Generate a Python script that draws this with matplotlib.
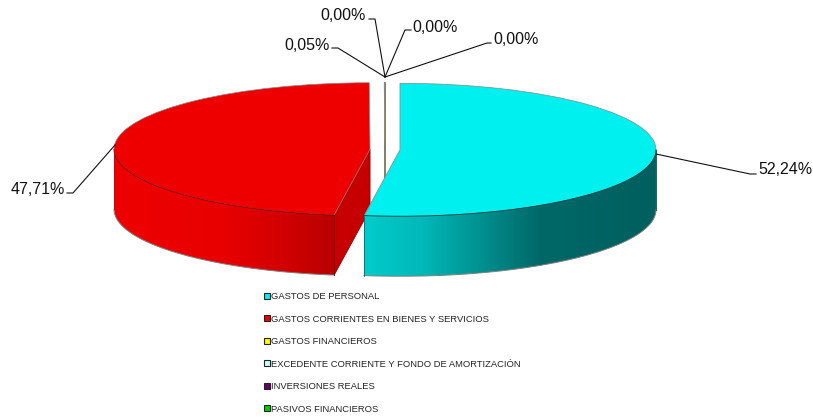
import numpy as np
import matplotlib
matplotlib.use("Agg")
import matplotlib.pyplot as plt
from matplotlib.colors import LinearSegmentedColormap
from matplotlib.patches import Patch, Polygon

plt.rcParams['font.family'] = ['Liberation Sans', 'DejaVu Sans']

categories = ["GASTOS DE PERSONAL", "GASTOS CORRIENTES EN BIENES Y SERVICIOS",
              "GASTOS FINANCIEROS", "EXCEDENTE CORRIENTE Y FONDO DE AMORTIZACIÓN",
              "INVERSIONES REALES", "PASIVOS FINANCIEROS"]
values = [52.24, 47.71, 0.05, 0.00, 0.00, 0.00]
colors = ["#00F0F0", "#EE0000", "#FFFF00", "#CCFFFF", "#660066", "#00CC00"]

W, H = 813, 418
# pie geometry in pixels: horizontal and vertical radius, centre, wall height
RX, RY = 256, 66.5
CX, CY = 385, 149.5
DEPTH = 60 / RY

wall_cyan = LinearSegmentedColormap.from_list("c", [(0, "#00CCCC"), (0.2, "#00B8B8"), (0.6, "#006868"), (1, "#005F5F")])
wall_red = LinearSegmentedColormap.from_list("r", [(0, "#EE0000"), (0.5, "#E80000"), (0.8, "#CF0000"), (1, "#B80000")])

fig = plt.figure(figsize=(W / 100, H / 100), dpi=100)
ax = fig.add_axes([0, 0, 1, 1])

wedges, _ = ax.pie(values, colors=colors, startangle=90, counterclock=False,
                   explode=[15 / RX, 15 / RX, 0, 0, 0, 0],
                   wedgeprops=dict(edgecolor="#888888", linewidth=0.5))


def px(x, y):
    return (x - CX) / RX, (CY - y) / RY


def rim(w, deg):
    t = np.radians(deg)
    return w.center[0] + w.r * np.cos(t), w.center[1] + w.r * np.sin(t)


def draw_wall(w, cmap, z, left_col, right_col):
    # only the part of the rim facing the viewer, lower half of the ellipse
    t = np.linspace(max(w.theta1, -180), min(w.theta2, 0), 200)
    x, y = rim(w, t)
    outline = np.vstack([np.column_stack([x, y]), np.column_stack([x, y - DEPTH])[::-1]])
    clip = Polygon(outline, transform=ax.transData, facecolor="none", edgecolor="none")
    ax.add_patch(clip)
    img = ax.imshow(np.linspace(0, 1, 256)[None, :], cmap=cmap, aspect="auto", zorder=z,
                    extent=(x.min(), x.max(), (y - DEPTH).min(), y.max()))
    img.set_clip_path(clip)
    ax.plot(x, y - DEPTH, color="#808080", lw=0.7, zorder=z + 0.1)
    ax.plot(x, y, color=right_col, lw=0.6, zorder=z + 0.1)
    ax.plot([x[0]] * 2, [y[0], y[0] - DEPTH], color=left_col, lw=0.6, zorder=z + 0.1)
    ax.plot([x[-1]] * 2, [y[-1], y[-1] - DEPTH], color=right_col, lw=0.6, zorder=z + 0.1)


cyan, red, sliver = wedges[0], wedges[1], wedges[2]

# cut face of the small slice, mostly hidden behind the cyan one
sx, sy = rim(sliver, sliver.theta1)
ax.plot([sx, sx], [sy, sy - 1 - DEPTH], color="#77775A", lw=1.3, zorder=1)
sliver.set_zorder(1.1)

# cut face of the red slice that looks to the front
rx, ry = rim(red, red.theta2)
ax.add_patch(Polygon([red.center, (rx, ry), (rx, ry - DEPTH), (red.center[0], red.center[1] - DEPTH)],
                     facecolor="#C60000", edgecolor="#8A0000", lw=0.6, zorder=2))
red.set_zorder(3)
draw_wall(red, wall_red, 3.5, "#D00000", "#800000")
cyan.set_zorder(5)
draw_wall(cyan, wall_cyan, 5.5, "#007070", "#004848")

# data labels with their leader lines, in pixels
label_pos = [(785, 169), (38, 189), (307, 45), (343, 16), (435, 27), (516, 40)]
leaders = [[(656, 154), (750, 174), (756, 174)],
           [(115, 145), (73, 193), (67, 193)],
           [(385, 77), (338, 48), (332, 48)],
           [(385, 77), (375, 19), (369, 19)],
           [(385, 77), (405, 30), (411, 30)],
           [(385, 77), (487, 43), (491, 43)]]
for v, pos, line in zip(values, label_pos, leaders):
    ax.text(*px(*pos), f"{v:.2f}%".replace(".", ","), fontsize=11.5, ha="center", va="center", color="#111111", zorder=8)
    pts = np.array([px(*p) for p in line])
    ax.plot(pts[:, 0], pts[:, 1], color="#111111", lw=0.8, zorder=7)

handles = [Patch(facecolor=c, edgecolor="#222222", linewidth=0.8) for c in colors]
ax.legend(handles, categories, loc="upper left", bbox_to_anchor=(263.5 / W, 1 - 292 / H), frameon=False,
          fontsize=6.76, handlelength=0.65, handleheight=0.65, handletextpad=0.15, labelspacing=1.44,
          borderpad=0, borderaxespad=0, labelcolor="#222222")

ax.set_aspect("auto")
ax.set_xlim(-CX / RX, (W - CX) / RX)
ax.set_ylim(-(H - CY) / RY, CY / RY)
ax.axis("off")

fig.savefig("out.png", dpi=100)
